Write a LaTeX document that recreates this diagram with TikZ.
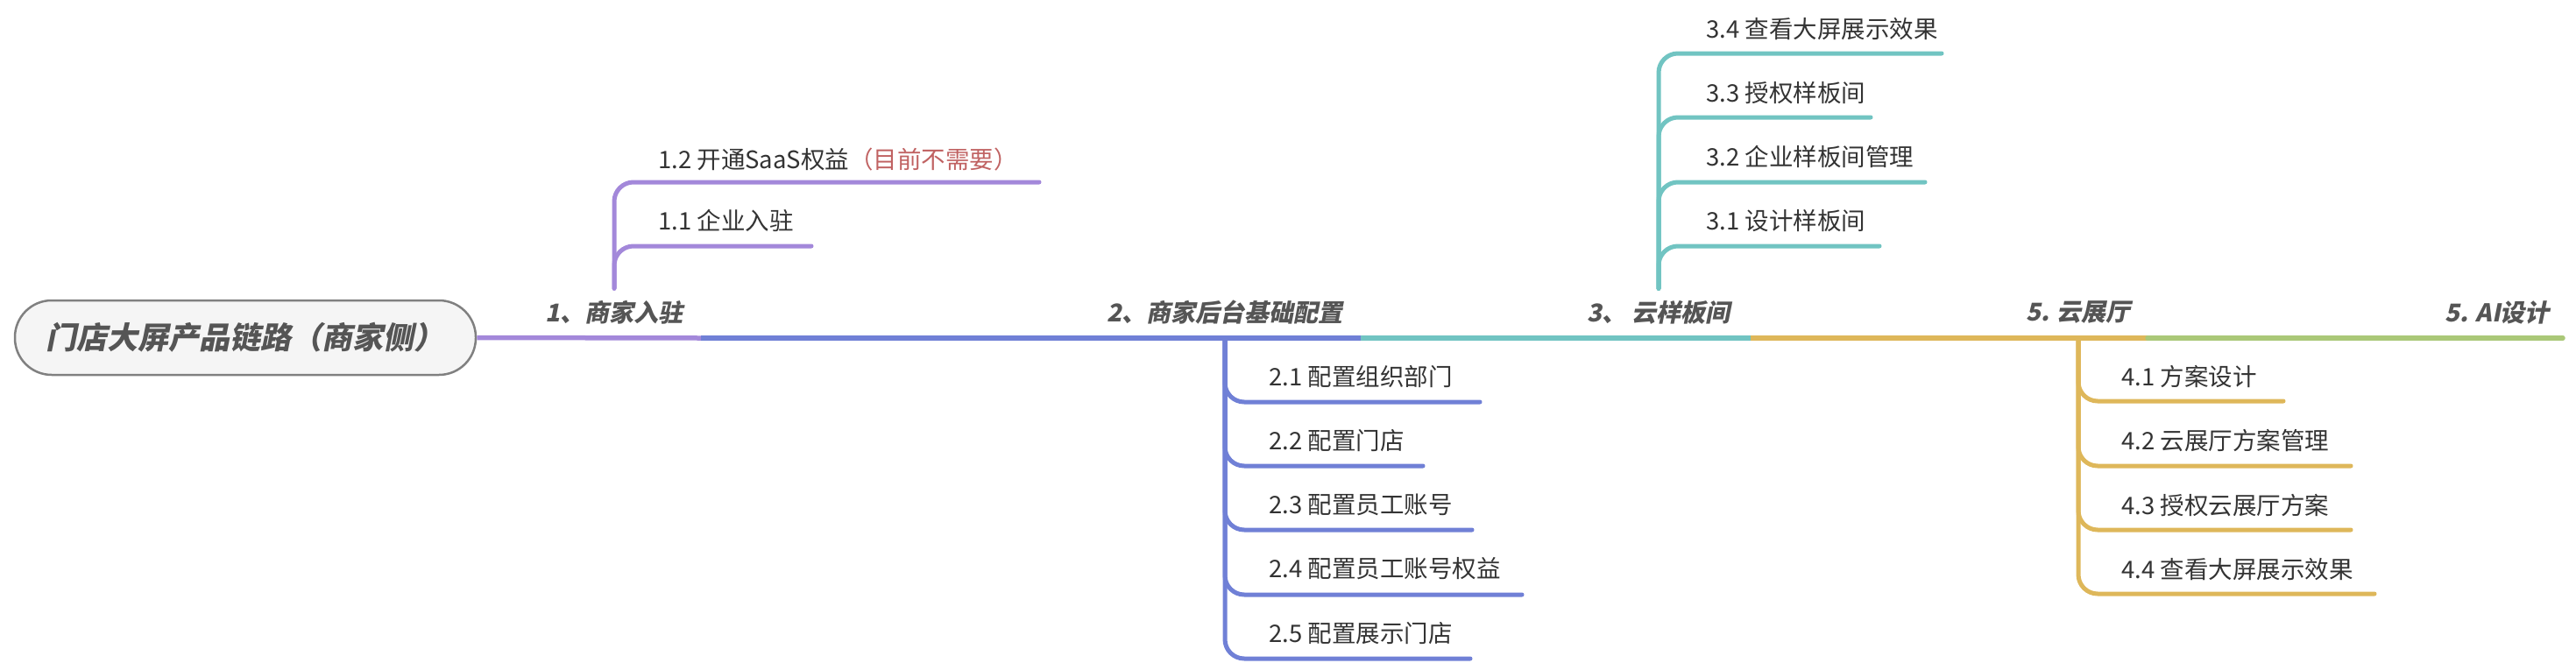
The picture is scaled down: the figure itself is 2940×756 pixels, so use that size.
\documentclass[tikz,border=0pt]{standalone}
\usepackage{fontspec}
\setmainfont{Noto Sans CJK SC}
\newfontfamily\topicfont{Noto Sans CJK SC}[BoldFeatures={FakeSlant=0.2}]
\usepackage{tikz}
\definecolor{lpurple}{HTML}{A388DA}
\definecolor{lblue}{HTML}{7080D6}
\definecolor{lteal}{HTML}{71C4C2}
\definecolor{lyellow}{HTML}{DEB75A}
\definecolor{lgreen}{HTML}{AAC878}
\definecolor{subtext}{HTML}{333333}
\definecolor{topictext}{HTML}{555555}
\definecolor{note}{HTML}{C06262}
\definecolor{rootfill}{HTML}{F5F5F5}
\definecolor{rootline}{HTML}{808080}

\begin{document}
\begin{tikzpicture}[x = 1pt, y = -1pt,
  main/.style = {line width = 5.5pt, line cap = butt},
  branch/.style = {line width = 5pt, line cap = round, rounded corners = 22pt},
  sub/.style = {anchor = west, inner sep = 0pt, text = subtext, font = \fontsize{27.5}{32}\selectfont},
  topic/.style = {inner xsep = 0pt, inner ysep = 14pt, text = topictext, font = \topicfont\bfseries\fontsize{28}{32}\selectfont}]
\useasboundingbox (0,0) rectangle (2940,756);

% root
\node [draw = rootline, fill = rootfill, line width = 2.5pt, rounded corners = 42pt,
  minimum width = 526pt, minimum height = 85pt, text = topictext,
  font = \topicfont\bfseries\fontsize{35}{40}\selectfont] (root) at (280,385.5) {门店大屏产品链路（商家侧）};

% main line
\coordinate (m1) at (800,386);
\coordinate (m2) at (1553,386);
\coordinate (m3) at (1998,386);
\coordinate (m4) at (2451,386);
\coordinate (m5) at (2925,386);
\draw [main, lpurple] (root.east) -- (m1);
\draw [main, lblue] (m1) -- (m2);
\draw [main, lteal] (m2) -- (m3);
\draw [main, lyellow] (m3) -- (m4);
\draw [main, lgreen, line cap = round] (m4) -- (m5);

% topics
\node [topic] (n1) at (701,357) {1、商家入驻};
\node [topic] (n2) at (1398,357) {2、商家后台基础配置};
\node [topic] (n3) at (1893,357) {3、 云样板间};
\node [topic] (n4) at (2372,357) {5. 云展厅};
\node [topic] (n5) at (2850,357) {5. AI设计};

% 1
\node [sub] (s12) at (751,182) {1.2 开通SaaS权益\textcolor{note}{（目前不需要）}};
\node [sub] (s11) at (751,252) {1.1 企业入驻};
\coordinate (s12e) at (1186,208);
\coordinate (s11e) at (926,281);
\draw [branch, lpurple] (n1.north) |- (s12e);
\draw [branch, lpurple] (n1.north) |- (s11e);

% 2
\coordinate (t2) at (1398,386);
\node [sub] (s21) at (1448,430) {2.1 配置组织部门};
\node [sub] (s22) at (1448,503) {2.2 配置门店};
\node [sub] (s23) at (1448,576) {2.3 配置员工账号};
\node [sub] (s24) at (1448,649) {2.4 配置员工账号权益};
\node [sub] (s25) at (1448,723) {2.5 配置展示门店};
\coordinate (s21e) at (1689,459);
\coordinate (s22e) at (1624,532);
\coordinate (s23e) at (1680,605);
\coordinate (s24e) at (1737,679);
\coordinate (s25e) at (1678,752);
\draw [branch, lblue] (t2) |- (s21e);
\draw [branch, lblue] (t2) |- (s22e);
\draw [branch, lblue] (t2) |- (s23e);
\draw [branch, lblue] (t2) |- (s24e);
\draw [branch, lblue] (t2) |- (s25e);

% 3
\node [sub] (s34) at (1947,33) {3.4 查看大屏展示效果};
\node [sub] (s33) at (1947,106) {3.3 授权样板间};
\node [sub] (s32) at (1947,179) {3.2 企业样板间管理};
\node [sub] (s31) at (1947,252) {3.1 设计样板间};
\coordinate (s34e) at (2216,61);
\coordinate (s33e) at (2135,134);
\coordinate (s32e) at (2197,208);
\coordinate (s31e) at (2145,281);
\draw [branch, lteal] (n3.north) |- (s34e);
\draw [branch, lteal] (n3.north) |- (s33e);
\draw [branch, lteal] (n3.north) |- (s32e);
\draw [branch, lteal] (n3.north) |- (s31e);

% 4
\coordinate (t4) at (2372,386);
\node [sub] (s41) at (2421,430) {4.1 方案设计};
\node [sub] (s42) at (2421,503) {4.2 云展厅方案管理};
\node [sub] (s43) at (2421,577) {4.3 授权云展厅方案};
\node [sub] (s44) at (2421,650) {4.4 查看大屏展示效果};
\coordinate (s41e) at (2606,458);
\coordinate (s42e) at (2683,532);
\coordinate (s43e) at (2683,605);
\coordinate (s44e) at (2710,678);
\draw [branch, lyellow] (t4) |- (s41e);
\draw [branch, lyellow] (t4) |- (s42e);
\draw [branch, lyellow] (t4) |- (s43e);
\draw [branch, lyellow] (t4) |- (s44e);
\end{tikzpicture}
\end{document}
